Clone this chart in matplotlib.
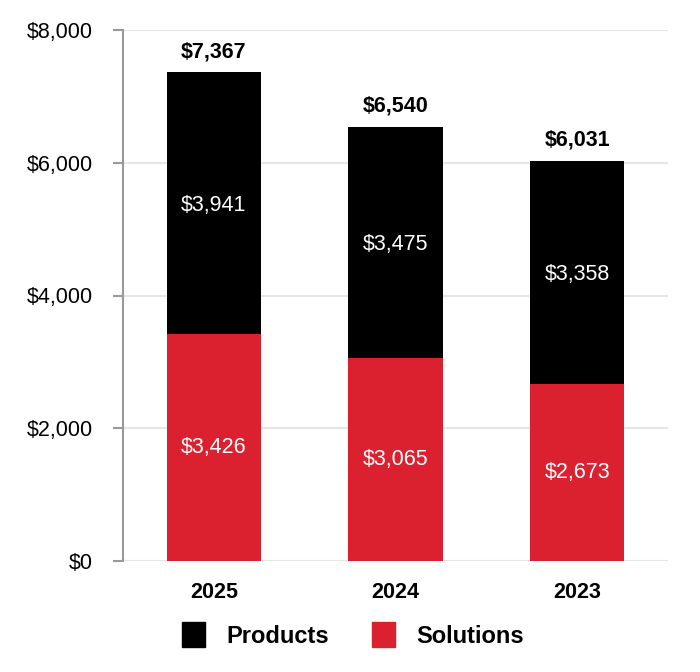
import matplotlib
matplotlib.use('Agg')
import matplotlib.pyplot as plt
from matplotlib.patches import Patch

years = ['2025', '2024', '2023']
solutions = [3426, 3065, 2673]
products = [3941, 3475, 3358]
totals = [7367, 6540, 6031]

RED = '#db2130'
plt.rcParams['font.family'] = ['Liberation Sans', 'DejaVu Sans']

fig = plt.figure(figsize=(7, 6.72), dpi=100)
ax = fig.add_axes([123 / 700, 1 - 561 / 672, 545 / 700, 531 / 672])

x = range(len(years))
ax.bar(x, solutions, width=0.52, color=RED, zorder=3)
ax.bar(x, products, width=0.52, bottom=solutions, color='black', zorder=3)

for i in x:
    ax.text(i, solutions[i] / 2, '${:,}'.format(solutions[i]),
            ha='center', va='center', color='white', fontsize=15.5, zorder=4)
    ax.text(i, solutions[i] + products[i] / 2 - 40, '${:,}'.format(products[i]),
            ha='center', va='center', color='white', fontsize=15.5, zorder=4)
    ax.text(i, totals[i] + 150, '${:,}'.format(totals[i]),
            ha='center', va='bottom', color='black', fontsize=15.5,
            fontweight='bold')

ax.set_xlim(-0.5, 2.5)
ax.set_ylim(0, 8000)
ax.set_yticks([0, 2000, 4000, 6000, 8000])
ax.set_yticklabels(['$0', '$2,000', '$4,000', '$6,000', '$8,000'], fontsize=15.5)
ax.set_xticks(list(x))
ax.set_xticklabels(years, fontsize=15.5, fontweight='bold')
ax.tick_params(axis='x', length=0, pad=15)
ax.tick_params(axis='y', length=7, color='#999999', width=1.5, pad=15)

ax.grid(axis='y', color='#e6e6e6', linewidth=1.5, zorder=0)
for s in ['top', 'right', 'bottom']:
    ax.spines[s].set_visible(False)
ax.spines['left'].set_color('#999999')
ax.spines['left'].set_linewidth(1.5)

handles = [Patch(color='black', label='Products'),
           Patch(color=RED, label='Solutions')]
fig.legend(handles=handles, loc='center', bbox_to_anchor=(353 / 700, 1 - 635 / 672),
           ncol=2, frameon=False, prop={'size': 17, 'weight': 'bold'},
           handlelength=1.0, handleheight=1.2, columnspacing=1.8,
           handletextpad=0.9)

fig.savefig('out.png', dpi=100)
